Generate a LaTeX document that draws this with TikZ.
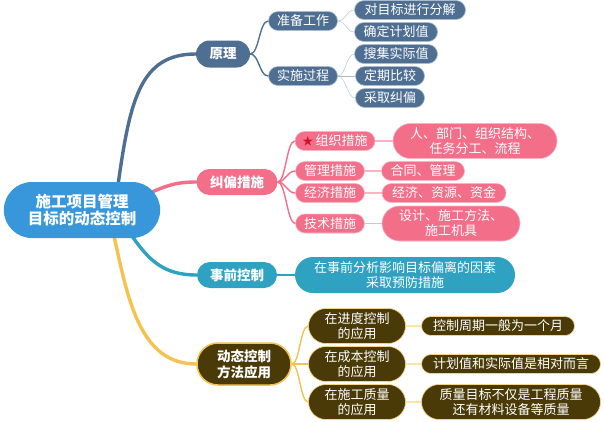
\documentclass[tikz,border=0pt]{standalone}
\usepackage{fontspec}
\setmainfont{Noto Sans CJK SC}
\usepackage{tikz}
\usetikzlibrary{shapes.misc,backgrounds}
\definecolor{rootblue}{HTML}{3797DA}
\definecolor{slate}{HTML}{4F6F92}
\definecolor{slatelight}{HTML}{A9BACD}
\definecolor{rose}{HTML}{F26E89}
\definecolor{roselight}{HTML}{F8B4C2}
\definecolor{seablue}{HTML}{2FA2C2}
\definecolor{mud}{HTML}{4A3A07}
\definecolor{gold}{HTML}{F4C24F}
\definecolor{goldlight}{HTML}{FBE3A6}
\definecolor{starred}{HTML}{D3102D}
\tikzset{
	pill/.style={rounded rectangle, text=white, inner xsep=2pt, inner ysep=0pt,
		minimum height=19pt, align=center, font=\fontsize{13}{15}\selectfont},
	topic/.style={pill, minimum height=26pt, font=\bfseries\fontsize{13.5}{16}\selectfont},
	slatebox/.style={pill, fill=slate, draw=slatelight, line width=0.6pt},
	rosebox/.style={pill, fill=rose, draw=roselight, line width=0.6pt},
	mudbox/.style={pill, fill=mud, draw=gold!70, line width=0.6pt},
	trunk/.style={line width=3.4pt, line cap=round},
	twig/.style={line width=1.4pt},
}
\begin{document}
\begin{tikzpicture}[x=1pt,y=-1pt]
	%\draw[step=50,gray,very thin] (0,0) grid (604,421);
	\useasboundingbox (0,0) rectangle (604,421);
	% centre
	\node[rounded rectangle, fill=rootblue, text=white, minimum width=163pt, minimum height=56pt,
		align=center, font=\bfseries\fontsize{15.5}{17}\selectfont] (root) at (82,210)
		{施工项目管理\\目标的动态控制};
	\coordinate (rblue) at (118,185);
	\coordinate (rrose) at (152,192);
	\coordinate (rsea) at (132,236);
	\coordinate (rgold) at (114,236);
	% 原理
	\node[topic, fill=slate, minimum width=58pt, minimum height=27pt] (yl) at (223,54) {原理};
	\node[slatebox, minimum width=73pt] (zb) at (303,21) {准备工作};
	\node[slatebox, minimum width=73pt] (ss) at (303,76) {实施过程};
	\node[slatebox, minimum width=115pt] (fj) at (410,10) {对目标进行分解};
	\node[slatebox, minimum width=87pt] (qd) at (396,32) {确定计划值};
	\node[slatebox, minimum width=87pt] (sj) at (396,54) {搜集实际值};
	\node[slatebox, minimum width=73pt] (dq) at (390,76) {定期比较};
	\node[slatebox, minimum width=73pt] (cq) at (390,98) {采取纠偏};
	% 纠偏措施
	\node[topic, fill=rose, minimum width=85pt] (jp) at (237,182) {纠偏措施};
	\node[rosebox, minimum width=84pt] (zz) at (335,141) {{\color{starred}\fontsize{11}{11}\selectfont ★}\,组织措施};
	\node[rosebox, minimum width=73pt] (gl) at (330,171) {管理措施};
	\node[rosebox, minimum width=73pt] (jj) at (330,193) {经济措施};
	\node[rosebox, minimum width=73pt] (js) at (330,223.5) {技术措施};
	\node[rosebox, minimum width=168pt, minimum height=35pt] (zzl) at (475,141) {人、部门、组织结构、\\任务分工、流程};
	\node[rosebox, minimum width=87pt] (gll) at (423,171) {合同、管理};
	\node[rosebox, minimum width=128pt] (jjl) at (444,193) {经济、资源、资金};
	\node[rosebox, minimum width=142pt, minimum height=35pt] (jsl) at (451,223.5) {设计、施工方法、\\施工机具};
	% 事前控制
	\node[topic, fill=seablue, minimum width=84pt] (sq) at (237,275) {事前控制};
	\node[pill, fill=seablue, minimum width=224pt, minimum height=36pt] (sql) at (405,275)
		{在事前分析影响目标偏离的因素\\采取预防措施};
	% 动态控制方法应用
	\node[topic, fill=mud, draw=gold, line width=1.5pt, minimum width=98pt, minimum height=42pt] (dt) at (244,364)
		{动态控制\\方法应用};
	\node[mudbox, minimum width=101pt, minimum height=35pt] (jd) at (357,326) {在进度控制\\的应用};
	\node[mudbox, minimum width=101pt, minimum height=35pt] (cb) at (357,364) {在成本控制\\的应用};
	\node[mudbox, minimum width=101pt, minimum height=35pt] (zl) at (357,402) {在施工质量\\的应用};
	\node[mudbox, minimum width=157pt] (jdl) at (498,326) {控制周期一般为一个月};
	\node[mudbox, minimum width=183pt] (cbl) at (511,364) {计划值和实际值是相对而言};
	\node[mudbox, minimum width=183pt, minimum height=35pt] (zll) at (511,402) {质量目标不仅是工程质量\\还有材料设备等质量};
	\begin{scope}[on background layer]
		\draw[trunk, slate] (rblue) .. controls (130,100) and (140,54) .. (yl.west);
		\draw[trunk, rose] (rrose) .. controls (170,184) and (180,182) .. (jp.west);
		\draw[trunk, seablue] (rsea) .. controls (150,262) and (165,275) .. (sq.west);
		\draw[trunk, gold] (rgold) .. controls (128,300) and (140,364) .. (dt.west);
	\end{scope}
	\foreach \c in {zb,ss}
		\draw[twig, slate] (yl.east) .. controls +(9,0) and +(-9,0) .. (\c.west);
	\foreach \c in {fj,qd}
		\draw[slatelight, thin] (zb.east) .. controls +(8,0) and +(-8,0) .. (\c.west);
	\foreach \c in {sj,dq,cq}
		\draw[slatelight, thin] (ss.east) .. controls +(8,0) and +(-8,0) .. (\c.west);
	\foreach \c in {zz,gl,jj,js}
		\draw[twig, rose] (jp.east) .. controls +(8,0) and +(-8,0) .. (\c.west);
	\foreach \a/\b in {zz/zzl,gl/gll,jj/jjl,js/jsl}
		\draw[twig, roselight] (\a.east) -- (\b.west);
	\draw[twig, seablue] (sq.east) -- (sql.west);
	\foreach \c in {jd,cb,zl}
		\draw[twig, gold] (dt.east) .. controls +(8,0) and +(-8,0) .. (\c.west);
	\foreach \a/\b in {jd/jdl,cb/cbl,zl/zll}
		\draw[twig, goldlight] (\a.east) -- (\b.west);
\end{tikzpicture}
\end{document}
